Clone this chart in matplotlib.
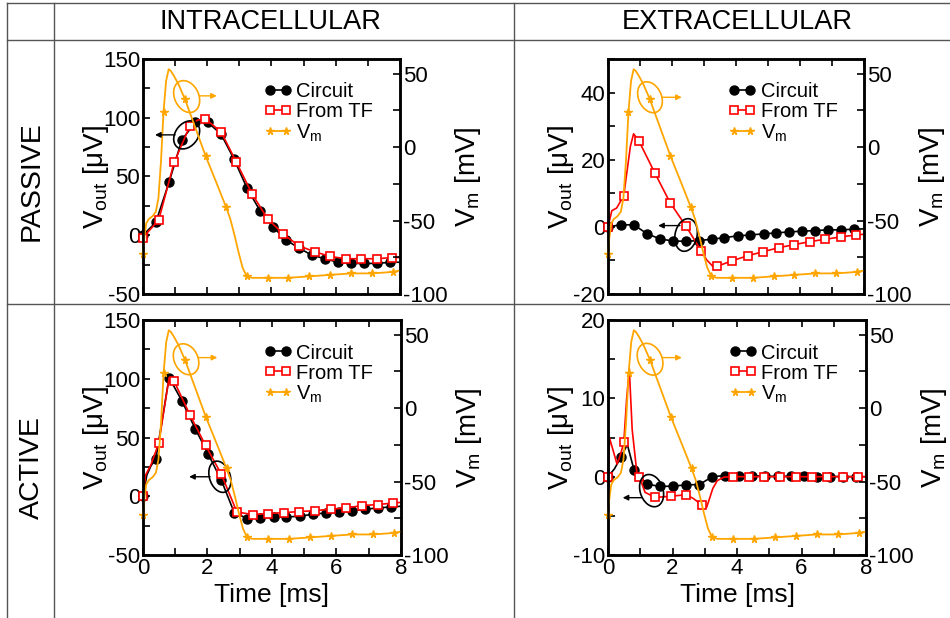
import numpy as np
import matplotlib
matplotlib.use("Agg")
import matplotlib.pyplot as plt
from matplotlib.lines import Line2D
from matplotlib.patches import Ellipse
from matplotlib.ticker import MultipleLocator

plt.rcParams['font.family'] = ['Liberation Sans', 'DejaVu Sans']
plt.rcParams['mathtext.default'] = 'regular'
plt.rcParams['axes.unicode_minus'] = False

# ---------------------------------------------------------------
# data (time in ms)
# ---------------------------------------------------------------
circ_grid = [0, 0.4, 0.81, 1.21, 1.62, 2.02, 2.43, 2.83, 3.24, 3.64, 4.05, 4.45,
             4.86, 5.26, 5.67, 6.07, 6.48, 6.88, 7.29, 7.69]
tf_grid = [0, 0.49, 0.97, 1.46, 1.94, 2.43, 2.91, 3.4, 3.88, 4.37, 4.85, 5.34,
           5.82, 6.31, 6.79, 7.28, 7.76]
vm_grid = [0, 0.64, 1.3, 1.95, 2.59, 3.23, 3.89, 4.53, 5.18, 5.82, 6.48, 7.12, 7.77]

# membrane potential (mV), same action potential in all panels
vm_t = [0, 0.04, 0.1, 0.18, 0.3, 0.4, 0.48, 0.56, 0.64, 0.72, 0.8, 0.86, 0.95, 1.1,
        1.3, 1.6, 1.95, 2.3, 2.59, 2.72, 2.85, 2.98, 3.1, 3.23, 3.4, 3.89, 4.53,
        5.18, 5.82, 6.48, 7.12, 7.77, 8.0]
vm_v = [-73, -62, -52, -49, -47, -44, -35, -10, 24, 45, 53, 52, 49, 43,
        33, 15, -6, -25, -41, -49, -60, -72, -82, -88, -89, -89, -89,
        -88, -87, -86, -86, -85, -84]

# intracellular, passive (uV)
ip_circ_t = [0, 0.4, 0.81, 1.21, 1.62, 1.82, 2.02, 2.43, 2.83, 3.24, 3.64, 4.05, 4.45,
             4.86, 5.26, 5.67, 6.07, 6.48, 6.88, 7.29, 7.69, 8.0]
ip_circ_v = [0, 11, 45, 81, 96, 98, 96, 86, 65, 40, 21, 7, -4,
             -11, -17, -20, -23, -24, -24, -24, -23, -23]
ip_tf_t = [0, 0.49, 0.97, 1.46, 1.7, 1.94, 2.43, 2.91, 3.4, 3.88, 4.37, 4.85, 5.34,
           5.82, 6.31, 6.79, 7.28, 7.76, 8.0]
ip_tf_v = [-2, 13, 62, 93, 98, 99, 88, 62, 35, 14, 1, -9, -14,
           -18, -20, -20, -20, -19, -19]

# extracellular, passive (uV)
ep_circ_t = circ_grid + [8.0]
ep_circ_v = [0, 0.6, 0.6, -2.0, -3.6, -4.2, -4.3, -4.1, -3.7, -3.2, -2.7, -2.4,
             -2.1, -1.8, -1.5, -1.3, -1.1, -0.9, -0.9, -0.7, -0.6]
ep_tf_t = [0, 0.12, 0.27, 0.49, 0.7, 0.8, 0.97, 1.46, 1.94, 2.43, 2.91, 3.08, 3.3, 3.4,
           3.88, 4.37, 4.85, 5.34, 5.82, 6.31, 6.79, 7.28, 7.76, 8.0]
ep_tf_v = [0, 4.8, 5.6, 9.2, 24, 27.7, 25.5, 16.1, 7.2, 0.3, -7.1, -9.8, -12.0, -11.8,
           -10.1, -8.6, -7.4, -6.2, -5.3, -4.4, -3.7, -3.0, -2.4, -2.2]

# intracellular, active (uV)
ia_circ_t = [0, 0.12, 0.25, 0.4, 0.81, 1.21, 1.62, 2.02, 2.43, 2.83, 3.24, 3.64, 4.05,
             4.45, 4.86, 5.26, 5.67, 6.07, 6.48, 6.88, 7.29, 7.69, 8.0]
ia_circ_v = [0, 18, 26, 32, 101, 81, 57.5, 36, 13.6, -13.9, -19, -18.4, -18,
             -17.6, -17, -15.3, -14.2, -13.6, -12.5, -11, -9.9, -9.1, -8.5]
ia_tf_t = [0, 0.08, 0.25, 0.49, 0.81, 0.97, 1.46, 1.94, 2.43, 2.91, 3.4, 3.88, 4.37,
           4.85, 5.34, 5.82, 6.31, 6.79, 7.28, 7.76, 8.0]
ia_tf_v = [0, 18, 27, 45.3, 101, 97.7, 69, 43.3, 18.7, -13.3, -15.6, -14.7, -13.9,
           -13, -12.2, -11, -9.9, -7.9, -7.1, -5.7, -5.2]

# extracellular, active (uV)
ea_circ_t = [0, 0.2, 0.4, 0.6, 0.81, 1.21, 1.62, 2.02, 2.43, 2.83, 3.24, 3.64, 4.05,
             4.45, 4.86, 5.26, 5.67, 6.07, 6.48, 6.88, 7.29, 7.69, 8.0]
ea_circ_v = [0, 1.0, 2.5, 4.1, 0.8, -0.95, -1.25, -1.2, -1.05, -1.0, 0.0, 0.15, 0.15,
             0.12, 0.05, 0.05, 0.05, 0.03, 0.02, 0.02, 0.02, 0.0, 0.0]
ea_tf_t = [0, 0.05, 0.28, 0.4, 0.49, 0.58, 0.66, 0.75, 0.9, 0.97, 1.15, 1.46, 1.94,
           2.43, 2.65, 2.91, 3.06, 3.25, 3.39, 3.6, 3.88, 4.37, 4.85, 5.34, 5.82,
           6.31, 6.79, 7.28, 7.76, 8.0]
ea_tf_v = [0, 4.9, 1.6, 3.0, 4.4, 10.0, 13.8, 6.0, 0.3, 0.0, -2.0, -2.65, -2.5,
           -2.3, -2.8, -3.6, -3.9, -1.5, -0.5, -0.05, 0, 0, 0, 0, 0,
           0, 0, 0, 0, 0]

col_titles = ['INTRACELLULAR', 'EXTRACELLULAR']
row_titles = ['PASSIVE', 'ACTIVE']

ORANGE = '#FFA500'
RED = '#FF0000'

fig = plt.figure(figsize=(9.5, 6.18), dpi=100)

# table grid lines
def fline(x0, y0, x1, y1):
    fig.add_artist(Line2D([x0 / 950, x1 / 950], [1 - y0 / 618, 1 - y1 / 618],
                          transform=fig.transFigure, color='#555555', lw=1.0))

fline(7, 3, 950, 3)
fline(7, 40, 950, 40)
fline(7, 304, 950, 304)
fline(7, 3, 7, 618)
fline(54, 3, 54, 618)
fline(514, 3, 514, 618)

fig.text(270 / 950, 1 - 22 / 618, col_titles[0], ha='center', va='center', fontsize=19.5)
fig.text(737 / 950, 1 - 22 / 618, col_titles[1], ha='center', va='center', fontsize=19.5)
fig.text(32 / 950, 1 - 181 / 618, row_titles[0], ha='center', va='center', fontsize=20.5, rotation=90)
fig.text(32 / 950, 1 - 468 / 618, row_titles[1], ha='center', va='center', fontsize=20.5, rotation=90)


def draw_panel(rect, circ_t, circ_v, tf_t, tf_v, ylim, major, minor, bottom, ann):
    ax = fig.add_axes(rect)
    ax2 = ax.twinx()

    ax.plot(circ_t, circ_v, color='black', lw=1.2, marker='o', ms=6.5,
            markevery=list(np.isin(circ_t, circ_grid)), clip_on=False, label='Circuit')
    ax.plot(tf_t, tf_v, color=RED, lw=1.2, marker='s', ms=6, mfc='white', mec=RED,
            mew=1.2, markevery=list(np.isin(tf_t, tf_grid)), clip_on=False, label='From TF')
    ax2.plot(vm_t, vm_v, color=ORANGE, lw=1.3, marker='*', ms=5.5,
             markevery=list(np.isin(vm_t, vm_grid)), clip_on=False, label='V$_m$')

    ax.set_xlim(0, 8)
    ax.set_ylim(*ylim)
    ax2.set_ylim(-100, 60)
    ax.xaxis.set_major_locator(MultipleLocator(2))
    ax.xaxis.set_minor_locator(MultipleLocator(1))
    ax.yaxis.set_major_locator(MultipleLocator(major))
    ax.yaxis.set_minor_locator(MultipleLocator(minor))
    ax2.yaxis.set_major_locator(MultipleLocator(50))
    ax2.yaxis.set_minor_locator(MultipleLocator(25))

    for a in (ax, ax2):
        for s in a.spines.values():
            s.set_linewidth(1.8)
    ax.tick_params(which='both', direction='in', length=5, width=1.2, top=True,
                   right=False, labelsize=16, pad=2)
    ax2.tick_params(which='both', direction='in', length=5, width=1.2, labelsize=16, pad=2)
    if bottom:
        ax.set_xlabel('Time [ms]', fontsize=19)
        ax.xaxis.set_label_coords(0.5, -0.12)
    else:
        ax.tick_params(labelbottom=False)

    ax.set_ylabel('V$_{out}$ [μV]', fontsize=20)
    ax.yaxis.set_label_coords(-0.125, 0.5)
    ax2.set_ylabel('V$_m$ [mV]', fontsize=20)
    ax2.yaxis.set_label_coords(1.205, 0.5)

    h1, l1 = ax.get_legend_handles_labels()
    h2, l2 = ax2.get_legend_handles_labels()
    ax2.legend(h1 + h2, l1 + l2, loc='upper left', bbox_to_anchor=(0.47, 0.9),
               frameon=False, fontsize=14.5, handlelength=1.4, handletextpad=0.2,
               labelspacing=0.05, borderaxespad=0, borderpad=0, numpoints=2)

    # guide ellipses and arrows
    for (cx, cy, w, h, ang, col, x0, x1, ya) in ann:
        ax2.add_patch(Ellipse((cx, cy), w, h, angle=ang, transform=ax2.transAxes,
                              fill=False, ec=col, lw=1.2))
        ax2.annotate('', xy=(x1, ya), xytext=(x0, ya), xycoords='axes fraction',
                     arrowprops=dict(arrowstyle='-|>', color=col, lw=1.0,
                                     mutation_scale=8, shrinkA=0, shrinkB=0))
    return ax, ax2


draw_panel([0.1505, 0.5243, 0.2705, 0.3803], ip_circ_t, ip_circ_v, ip_tf_t, ip_tf_v,
           (-50, 150), 50, 25, False,
           [(0.170, 0.840, 0.095, 0.14, 20, ORANGE, 0.219, 0.287, 0.843),
            (0.170, 0.677, 0.09, 0.128, -30, 'black', 0.125, 0.047, 0.677)])
draw_panel([0.640, 0.5243, 0.2695, 0.3803], ep_circ_t, ep_circ_v, ep_tf_t, ep_tf_v,
           (-20, 50), 20, 10, False,
           [(0.164, 0.837, 0.09, 0.136, 20, ORANGE, 0.21, 0.288, 0.837),
            (0.305, 0.251, 0.086, 0.14, -10, 'black', 0.281, 0.196, 0.291)])
draw_panel([0.1505, 0.1019, 0.2716, 0.3803], ia_circ_t, ia_circ_v, ia_tf_t, ia_tf_v,
           (-50, 150), 50, 25, True,
           [(0.167, 0.833, 0.093, 0.136, 20, ORANGE, 0.214, 0.288, 0.840),
            (0.298, 0.333, 0.081, 0.136, 15, 'black', 0.26, 0.179, 0.333)])
draw_panel([0.640, 0.1019, 0.2716, 0.3803], ea_circ_t, ea_circ_v, ea_tf_t, ea_tf_v,
           (-10, 20), 10, 5, True,
           [(0.163, 0.833, 0.093, 0.14, 20, ORANGE, 0.212, 0.286, 0.840),
            (0.169, 0.274, 0.089, 0.14, 15, 'black', 0.131, 0.057, 0.244)])

fig.savefig('out.png', dpi=100)
